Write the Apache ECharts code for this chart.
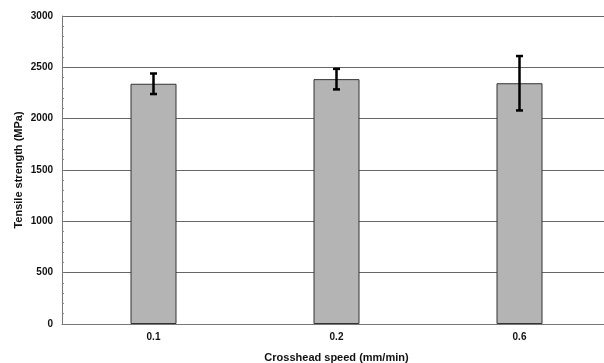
<!DOCTYPE html>
<html>
<head>
<meta charset="utf-8">
<script src="https://cdn.jsdelivr.net/npm/echarts@6/dist/echarts.min.js"></script>
<style>
  html, body { margin: 0; padding: 0; background: #fff; overflow: hidden; }
  #chart { width: 604px; height: 363px; }
</style>
</head>
<body>
<div id="chart"></div>
<script>
// 读图估计的数据
var speeds = ['0.1', '0.2', '0.6'];
var strength = [2340, 2385, 2345];
var errUp = [100, 100, 265];
var errDown = [100, 100, 265];

var chart = echarts.init(document.getElementById('chart'));

// 误差线数据: [类目序号, 下限, 上限]
var errData = speeds.map(function (s, i) {
  return [i, strength[i] - errDown[i], strength[i] + errUp[i]];
});

function renderErr(params, api) {
  var x = api.value(0);
  var lo = api.coord([x, api.value(1)]);
  var hi = api.coord([x, api.value(2)]);
  var cap = 3.5;
  var style = { stroke: '#000', lineWidth: 2.5 };
  return {
    type: 'group',
    children: [
      { type: 'line', shape: { x1: hi[0], y1: hi[1], x2: lo[0], y2: lo[1] }, style: style },
      { type: 'line', shape: { x1: hi[0] - cap, y1: hi[1], x2: hi[0] + cap, y2: hi[1] }, style: style },
      { type: 'line', shape: { x1: lo[0] - cap, y1: lo[1], x2: lo[0] + cap, y2: lo[1] }, style: style }
    ]
  };
}

var option = {
  animation: false,
  grid: {
    left: 62,
    right: -7,
    top: 16,
    bottom: 39,
    outerBoundsMode: 'none',
    containLabel: false
  },
  xAxis: {
    type: 'category',
    data: speeds,
    name: 'Crosshead speed (mm/min)',
    nameLocation: 'middle',
    nameGap: 28,
    nameMoveOverlap: false,
    nameTextStyle: {
      fontFamily: 'Liberation Sans',
      fontWeight: 'bold',
      fontSize: 11,
      color: '#111'
    },
    axisLine: { lineStyle: { color: '#777', width: 1 } },
    axisTick: { inside: true, length: 3, lineStyle: { color: '#777' } },
    axisLabel: {
      margin: 8,
      fontFamily: 'Liberation Sans',
      fontWeight: 'bold',
      fontSize: 10,
      color: '#111'
    }
  },
  yAxis: {
    type: 'value',
    min: 0,
    max: 3000,
    interval: 500,
    name: 'Tensile strength (MPa)',
    nameLocation: 'middle',
    nameGap: 38,
    nameMoveOverlap: false,
    nameTextStyle: {
      fontFamily: 'Liberation Sans',
      fontWeight: 'bold',
      fontSize: 11,
      color: '#111'
    },
    axisLine: { show: true, lineStyle: { color: '#777', width: 1 } },
    axisTick: { show: true, inside: true, length: 3, lineStyle: { color: '#777' } },
    minorTick: { show: true, splitNumber: 5, length: 2, lineStyle: { color: '#888' } },
    axisLabel: {
      margin: 9,
      fontFamily: 'Liberation Sans',
      fontWeight: 'bold',
      fontSize: 10,
      color: '#111',
      formatter: function (v) { return String(v); }
    },
    splitLine: { show: true, lineStyle: { color: '#666', width: 1 } }
  },
  series: [{
    type: 'bar',
    data: strength,
    barWidth: 46,
    itemStyle: {
      color: '#b4b4b4',
      borderColor: '#333',
      borderWidth: 1
    },
    z: 2
  }, {
    type: 'custom',
    renderItem: renderErr,
    data: errData,
    encode: { x: 0, y: [1, 2] },
    z: 3
  }]
};

chart.setOption(option);
</script>
</body>
</html>
